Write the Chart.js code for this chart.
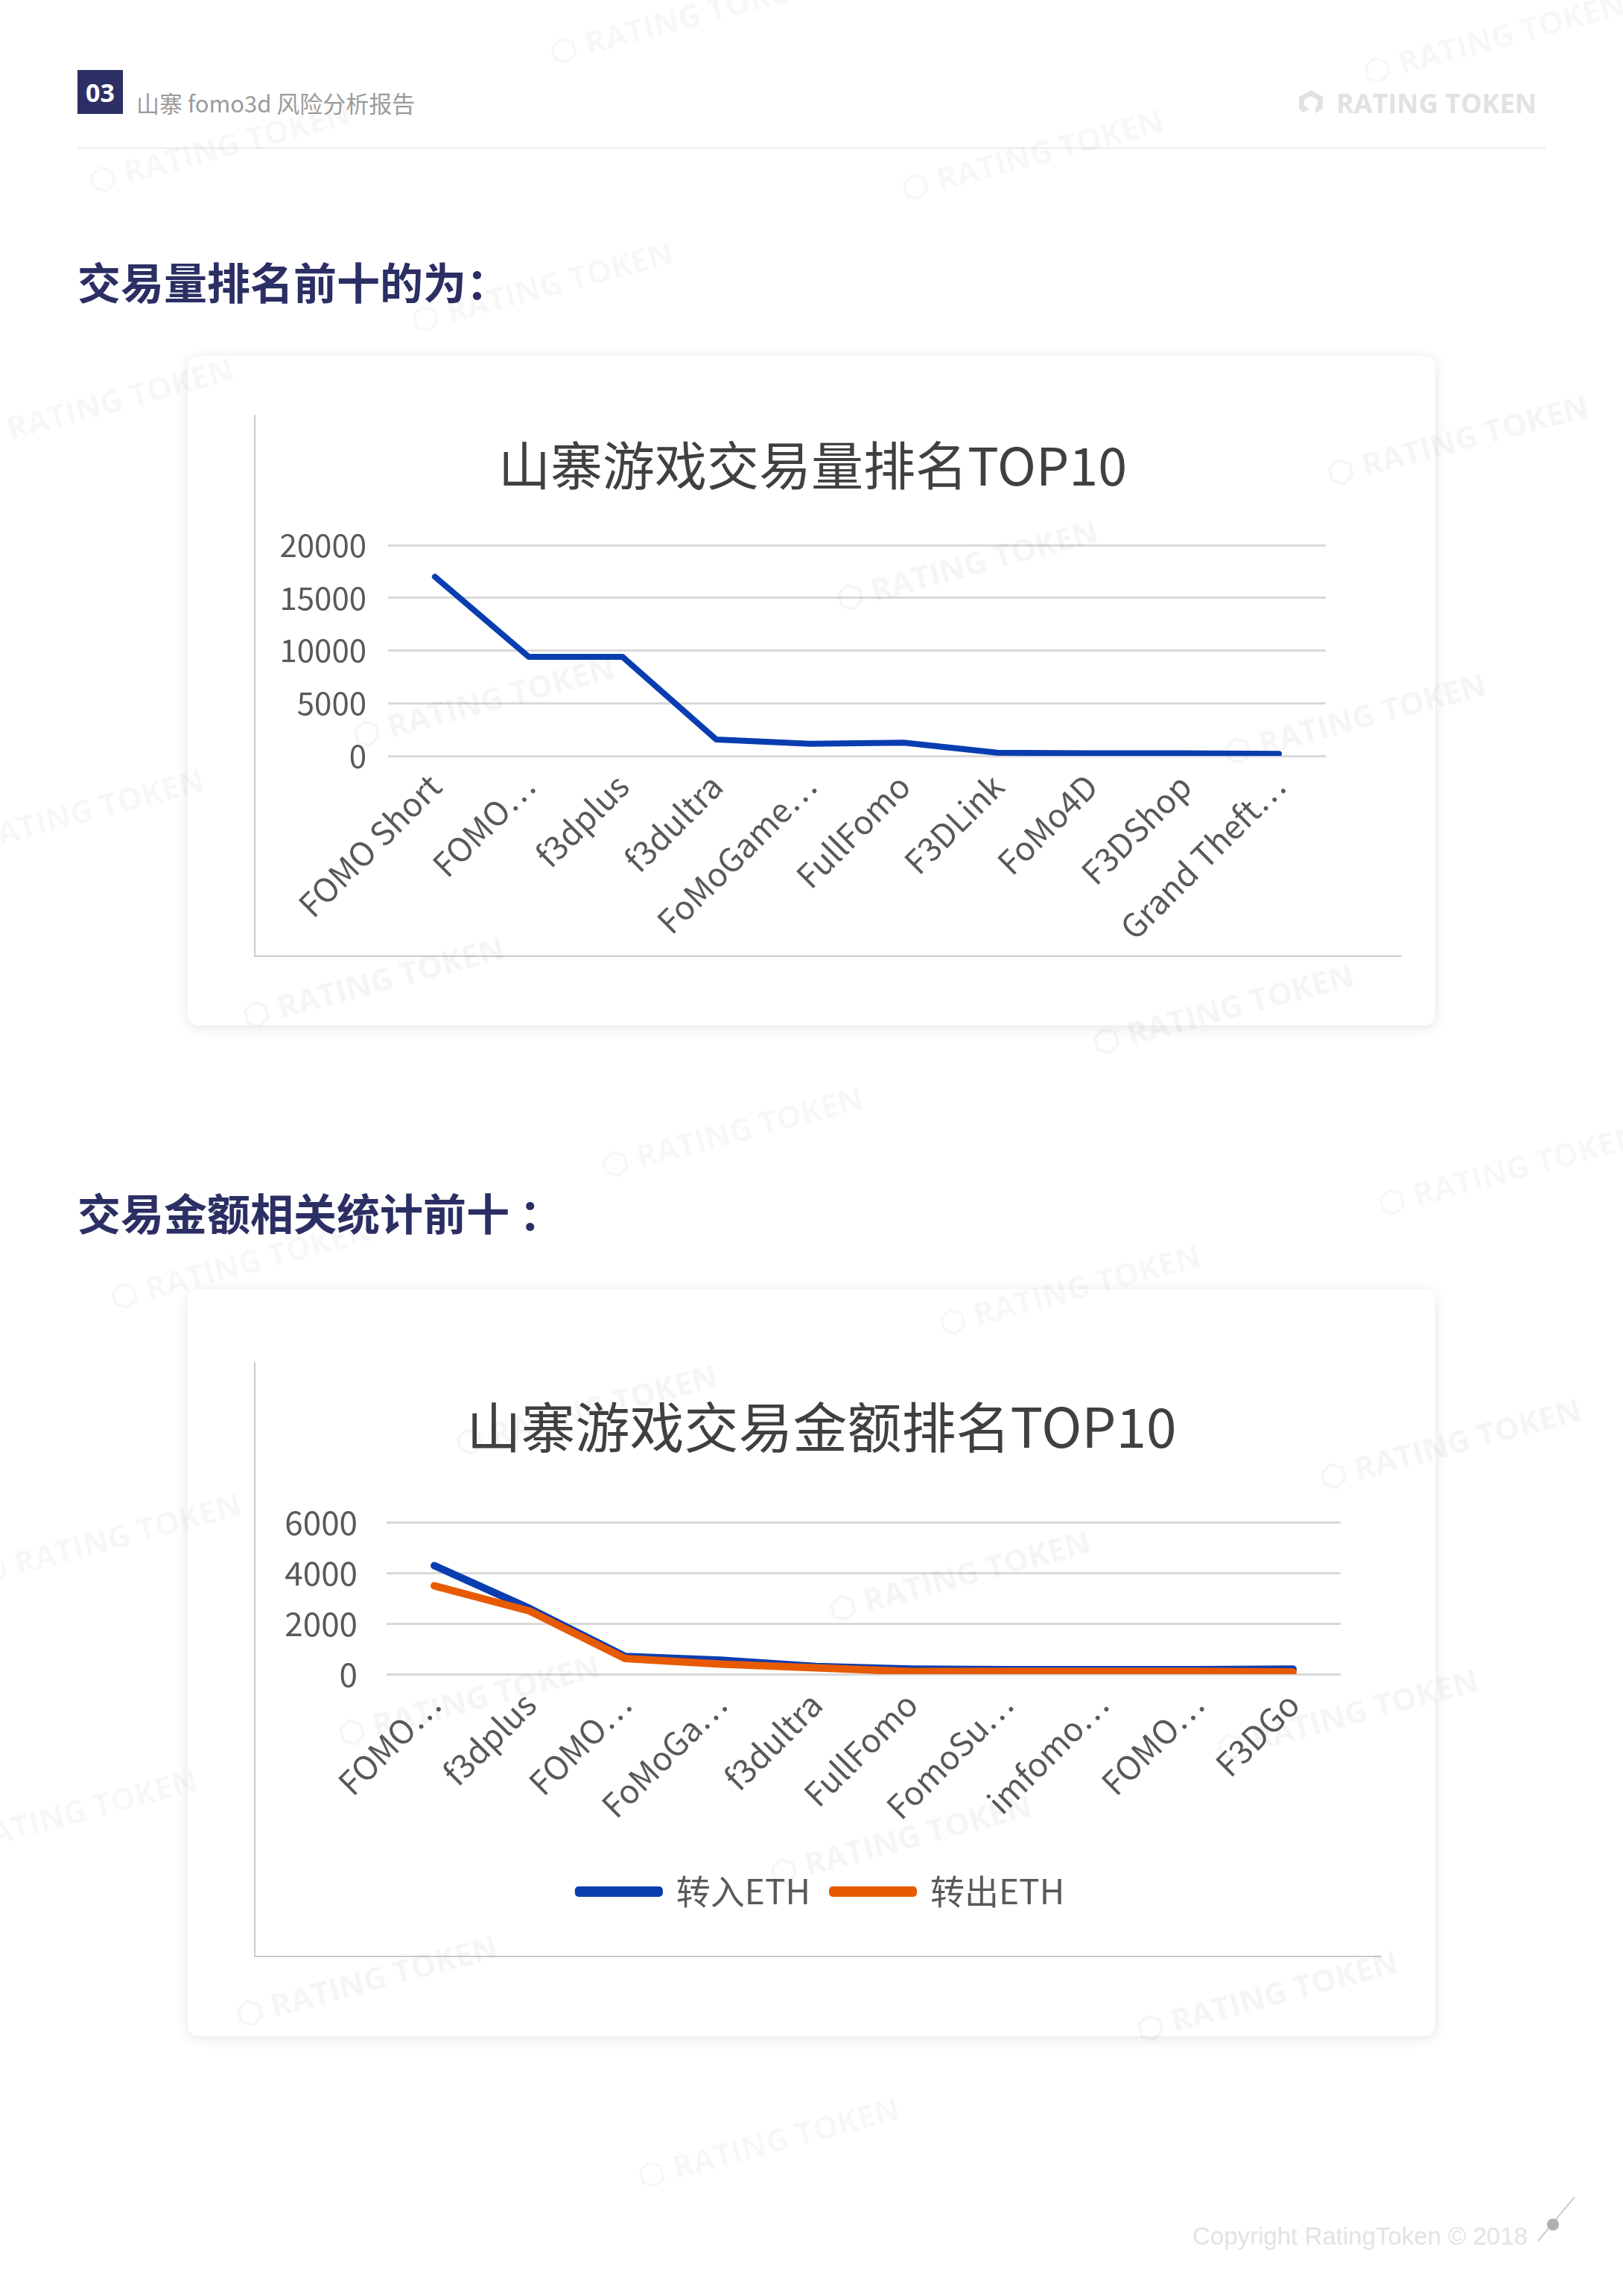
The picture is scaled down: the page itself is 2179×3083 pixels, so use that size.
<!DOCTYPE html>
<html>
<head>
<meta charset="utf-8">
<script src="https://cdn.jsdelivr.net/npm/chart.js@4.4.1/dist/chart.umd.min.js"></script>
<style>
html,body{margin:0;padding:0;background:#fff;}
body{width:2179px;height:3083px;position:relative;overflow:hidden;font-family:"Noto Sans CJK SC","Noto Sans",sans-serif;}
.abs{position:absolute;}
#badge{left:104px;top:94px;width:61px;height:59px;background:#2b2f64;color:#fff;font:700 34px "Noto Sans",sans-serif;display:flex;align-items:center;justify-content:center;}
#hdr{left:183px;top:116px;font-size:31px;color:#9b9b9b;line-height:44px;white-space:nowrap;}
#hline{left:104px;top:198px;width:1971px;height:2px;background:#ececec;}
#logo{left:1738px;top:112px;height:52px;display:flex;align-items:center;white-space:nowrap;color:#e2e2e2;font:700 36px "Open Sans","Noto Sans",sans-serif;}
#logo svg{margin-right:12px;}
.h2{left:104px;font-weight:700;font-size:58px;color:#2b2f64;line-height:66px;white-space:nowrap;}
.card{left:252px;width:1675px;background:#fff;border-radius:14px;box-shadow:0 3px 18px rgba(0,0,0,0.10);}
.vline{width:2px;background:#cbcbcb;}
.hl{height:2px;background:#cbcbcb;}
canvas{position:absolute;}
#foot{left:1601px;top:2984px;font:33px "Liberation Sans","Noto Sans",sans-serif;color:#e3e3e3;white-space:nowrap;line-height:38px;}
.wm{position:absolute;white-space:nowrap;font:700 42px "Open Sans","Noto Sans",sans-serif;color:rgba(0,0,0,0.04);transform-origin:center center;pointer-events:none;z-index:5;}
</style>
</head>
<body>
<div id="badge" class="abs">03</div>
<div id="hdr" class="abs">山寨 fomo3d 风险分析报告</div>
<div id="hline" class="abs"></div>
<div id="logo" class="abs">
<svg width="44" height="40" viewBox="0 0 44 40"><path d="M22 3 L38 12 L38 28 L28 34 L28 26 L31 24 L31 16 L22 11 L13 16 L13 24 L20 28 L12 33 L6 28 L6 12 Z" fill="#e2e2e2"/></svg>
RATING TOKEN</div>

<div class="h2 abs" style="top:344px;">交易量排名前十的为：</div>
<div class="card abs" style="top:478px;height:899px;"></div>
<div class="vline abs" style="left:341px;top:557px;height:728px;"></div>
<div class="hl abs" style="left:341px;top:1283px;width:1541px;"></div>
<canvas id="c1" width="1540" height="727" style="left:342px;top:557px;"></canvas>

<div class="h2 abs" style="top:1594px;">交易金额相关统计前十 ：</div>
<div class="card abs" style="top:1731px;height:1003px;"></div>
<div class="vline abs" style="left:341px;top:1829px;height:799px;"></div>
<div class="hl abs" style="left:341px;top:2626px;width:1514px;"></div>
<canvas id="c2" width="1540" height="798" style="left:342px;top:1829px;"></canvas>

<div id="foot" class="abs">Copyright RatingToken © 2018</div>
<svg class="abs" style="left:2055px;top:2945px;" width="70" height="75" viewBox="0 0 70 75">
<line x1="10" y1="64" x2="59" y2="5" stroke="#cfcfcf" stroke-width="2"/>
<circle cx="30" cy="42" r="8" fill="#b0b0b0"/>
</svg>

<script>
// ---- chart data ----
const volTitle = "山寨游戏交易量排名TOP10";
const volLabels = ["FOMO Short", "FOMO…", "f3dplus", "f3dultra", "FoMoGame…", "FullFomo", "F3DLink", "FoMo4D", "F3DShop", "Grand Theft…"];
const volValues = [17000, 9400, 9400, 1550, 1150, 1250, 300, 250, 250, 200];
const volTickMin = 0, volTickMax = 20000, volTickStep = 5000;

const amtTitle = "山寨游戏交易金额排名TOP10";
const amtLabels = ["FOMO…", "f3dplus", "FOMO…", "FoMoGa…", "f3dultra", "FullFomo", "FomoSu…", "imfomo…", "FOMO…", "F3DGo"];
const ethInName = "转入ETH";
const ethOutName = "转出ETH";
const ethIn = [4300, 2600, 700, 550, 300, 200, 180, 180, 180, 200];
const ethOut = [3500, 2500, 620, 400, 250, 100, 110, 110, 110, 90];
const amtTickMin = 0, amtTickMax = 6000, amtTickStep = 2000;

const BLUE = "#0a3eb0";
const ORANGE = "#e85a00";
const TXT = "#595959";
const TITLE_TXT = "#404040";
const FONT = "'Noto Sans CJK SC','Noto Sans',sans-serif";

Chart.defaults.font.family = FONT;
Chart.defaults.color = TXT;

function lineDs(label, data, color, order, width) {
  return {
    label: label, data: data, borderColor: color, backgroundColor: color,
    borderWidth: width, pointRadius: 0, pointHoverRadius: 0, tension: 0, fill: false,
    borderCapStyle: 'round', borderJoinStyle: 'round', order: order, yAxisID: 'y'
  };
}

function axes(min, max, step, yWidth, xHeight, yPad, rightSpacer, yFont) {
  return {
    x: {
      offset: true,
      grid: { display: false, drawTicks: false },
      border: { display: false },
      ticks: { autoSkip: false, maxRotation: 45, minRotation: 45, padding: 14, color: TXT, font: { size: 44 } },
      afterFit: function (s) { s.height = xHeight; }
    },
    y: {
      min: min, max: max,
      grid: { color: "#d9d9d9", lineWidth: 3, drawTicks: false },
      border: { display: false },
      ticks: { stepSize: step, padding: yPad, color: TXT, font: { size: yFont },
        callback: function (v) { return String(v); } },
      afterFit: function (s) { s.width = yWidth; }
    },
    ySpacer: {
      type: 'linear', position: 'right', display: true,
      grid: { display: false, drawTicks: false },
      border: { display: false },
      ticks: { display: false },
      afterFit: function (s) { s.width = rightSpacer; }
    }
  };
}

new Chart(document.getElementById('c1'), {
  type: 'line',
  data: { labels: volLabels, datasets: [lineDs("交易量", volValues, BLUE, 0, 8)] },
  options: {
    responsive: false, animation: false,
    layout: { padding: { left: 0, right: 42, top: 0, bottom: 0 } },
    plugins: {
      legend: { display: false },
      tooltip: { enabled: false },
      title: { display: true, text: volTitle, color: TITLE_TXT, font: { size: 70, weight: 'normal' }, padding: { top: 26, bottom: 65 } }
    },
    scales: axes(volTickMin, volTickMax, volTickStep, 179, 269, 29, 60, 42)
  }
});

new Chart(document.getElementById('c2'), {
  type: 'line',
  data: { labels: amtLabels, datasets: [lineDs(ethInName, ethIn, BLUE, 1, 10), lineDs(ethOutName, ethOut, ORANGE, 0, 10)] },
  options: {
    responsive: false, animation: false,
    layout: { padding: { left: 0, right: 18, top: 0, bottom: 54 } },
    plugins: {
      tooltip: { enabled: false },
      title: { display: true, text: amtTitle, color: TITLE_TXT, font: { size: 73, weight: 'normal' }, padding: { top: 43, bottom: 85 } },
      legend: {
        display: true, position: 'bottom',
        labels: {
          boxWidth: 108, boxHeight: 4, padding: 30, color: TXT, font: { size: 46 },
          sort: function (a, b) { return a.datasetIndex - b.datasetIndex; }
        }
      }
    },
    scales: axes(amtTickMin, amtTickMax, amtTickStep, 177, 239, 39, 64, 44)
  }
});

// ---- decorative watermarks ----
const wmCenters = [[465,12],[1020,25],[150,100],[705,105],[370,195],[70,275],[995,300],[660,385],[330,478],[925,490],[50,555],[255,670],[835,688],[500,772],[1030,798],[165,862],[730,880],[400,962],[990,985],[75,1050],[655,1075],[320,1160],[920,1170],[615,1255],[45,1238],[250,1352],[865,1362],[525,1462]];
const sc = 2179 / 1108;
wmCenters.forEach(function (p) {
  const d = document.createElement('div');
  d.className = 'wm';
  d.textContent = '⬡ RATING TOKEN';
  document.body.appendChild(d);
  const w = d.offsetWidth, h = d.offsetHeight;
  d.style.left = (p[0] * sc - w / 2) + 'px';
  d.style.top = (p[1] * sc - h / 2) + 'px';
  d.style.transform = 'rotate(-15deg)';
});
</script>
</body>
</html>
